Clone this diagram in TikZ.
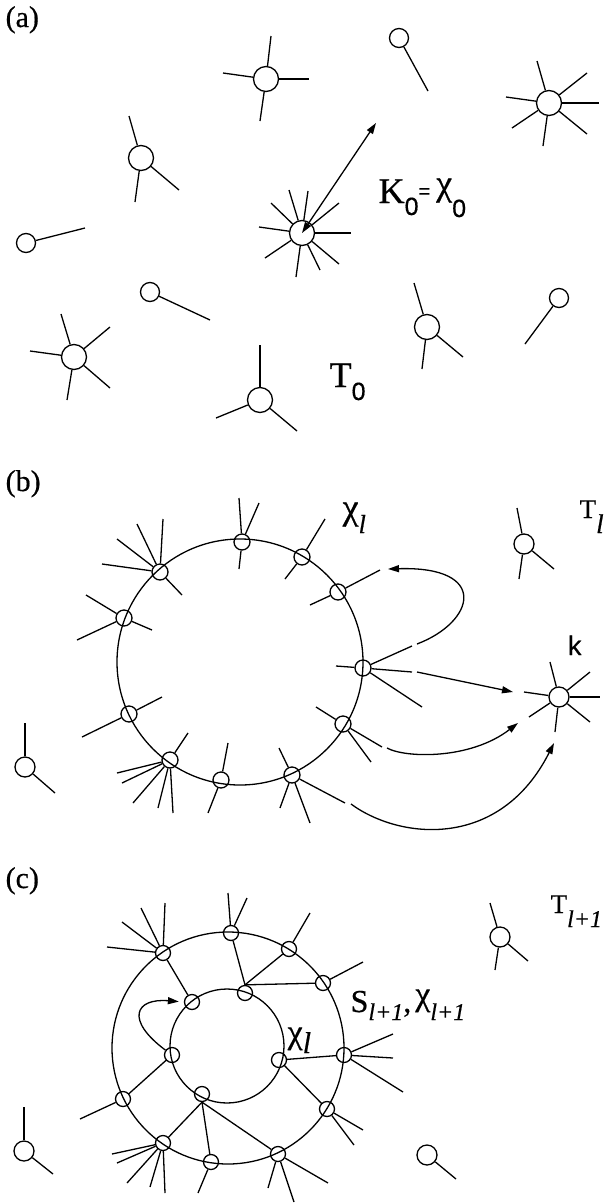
\documentclass[tikz,border=0pt]{standalone}
\usepackage{fontspec}
\setmainfont[FakeBold=0.5]{Liberation Serif}
\setmonofont[FakeBold=0.5]{Liberation Mono}
\newfontfamily\subsans[FakeBold=0.5]{Liberation Sans}
\usetikzlibrary{arrows.meta}
\newcommand{\fsz}[1]{\fontsize{#1}{#1}\selectfont}
\newcommand{\spokes}[2]{\foreach \sx/\sy [count=\si] in {#2} {\draw (#1) -- (\sx,\sy) coordinate (#1-\si);}}
\tikzset{
  hub/.style={draw,circle,inner sep=0pt,minimum size=25pt},
  leaf/.style={draw,circle,inner sep=0pt,minimum size=19pt},
  lone/.style={draw,circle,inner sep=0pt,minimum size=20pt},
  site/.style={draw,circle,inner sep=0pt,minimum size=16pt},
  csite/.style={draw,circle,inner sep=0pt,minimum size=15pt},
  ring/.style={draw,circle,inner sep=0pt,minimum size=#1},
  tag/.style={inner sep=0pt,anchor=base west},
}
\begin{document}
\begin{tikzpicture}[x=1pt,y=-1pt,line width=1.3pt,>={Triangle[length=11pt,width=7pt]}]
\useasboundingbox (0,0) rectangle (605,1203);

% (a)
\node[tag] (labA) at (5,27) {\fsz{30}(a)};
\node[hub] (a1) at (266,79) {};
\node[leaf] (a2) at (399,38) {};
\node[hub] (a3) at (549,103) {};
\node[hub] (a4) at (141,158) {};
\node[hub] (root) at (302,233) {};
\node[leaf] (a5) at (26,243) {};
\node[leaf] (a6) at (150,292) {};
\node[hub] (a7) at (74,357) {};
\node[hub] (a8) at (427,327) {};
\node[leaf] (a9) at (559,298) {};
\node[hub] (a10) at (260,400) {};
\spokes{a1}{271/36,223/73,309/79,260/121}
\spokes{a2}{428/91}
\spokes{a3}{537/61,587/73,599/103,587/134,543/146,512/128,506/97}
\spokes{a4}{129/116,179/190,135/202}
\spokes{root}{259/227,271/203,289/190,308/191,339/203,351/233,339/264,320/270,296/277,265/258}
\spokes{a5}{85/228}
\spokes{a6}{210/320}
\spokes{a7}{61/314,110/327,110/388,67/400,30/351}
\spokes{a8}{414/283,463/357,422/369}
\spokes{a9}{525/344}
\spokes{a10}{260/345,216/418,297/431}
\coordinate (reach) at (376,123);
\draw[<->] (root.center) -- (reach);
\node[tag] (keq) at (378,203) {\fsz{36}K\raisebox{-12pt}{\subsans\fsz{25}0}\raisebox{5pt}{\subsans\fsz{20}=}\hspace{6pt}\raisebox{8pt}{χ}\raisebox{-14pt}{\subsans\fsz{25}0}};
\node[tag] (tzero) at (329,387) {\fsz{36}T\raisebox{-13pt}{\subsans\fsz{25}0}};

% (b)
\node[tag] (labB) at (5,491) {\fsz{30}(b)};
\node[ring=246pt] (ringB) at (240,662) {};
\node[site] (b1) at (160,572) {};
\node[site] (b2) at (242,542) {};
\node[site] (b3) at (302,557) {};
\node[site] (b4) at (338,592) {};
\node[site] (b5) at (363,668) {};
\node[site] (b6) at (343,724) {};
\node[site] (b7) at (292,775) {};
\node[site] (b8) at (221,780) {};
\node[site] (b9) at (170,760) {};
\node[site] (b10) at (129,714) {};
\node[site] (b11) at (124,618) {};
\node[lone] (kk) at (559,697) {};
\node[lone] (q1) at (25,767) {};
\node[lone] (q2) at (524,544) {};
\spokes{b1}{163/519,137/524,117/539,102/564,182/595}
\spokes{b2}{239/498,239/569,259/503}
\spokes{b3}{325/519,285/579}
\spokes{b4}{380/570,310/605}
\spokes{b5}{336/666,412/646,412/672,422/707}
\spokes{b6}{316/707,382/747,371/762}
\spokes{b7}{279/748,280/808,310/823,345/803}
\spokes{b8}{228/743,208/813}
\spokes{b9}{188/733,117/773,122/783,133/803,158/808,173/813}
\spokes{b10}{162/697,82/737}
\spokes{b11}{86/595,152/630,77/640}
\spokes{kk}{550/662,590/672,600/697,590/722,555/732,529/717,524/692}
\spokes{q1}{25/723,55/793}
\spokes{q2}{517/508,554/569,519/579}
\coordinate (loopS) at (417,644);
\coordinate (loopE) at (388,569);
\coordinate (lineS) at (417,672);
\coordinate (lineE) at (513,692);
\coordinate (arcS) at (387,748);
\coordinate (arcE) at (518,723);
\coordinate (swingS) at (351,804);
\coordinate (swingE) at (554,743);
\draw[->] (loopS) .. controls (475,622) and (490,566) .. (loopE);
\draw[->] (lineS) -- (lineE);
\draw[->] (arcS) .. controls (405,758) and (470,760) .. (arcE);
\draw[->] (swingS) .. controls (400,840) and (500,850) .. (swingE);
\node[tag] (chiB) at (342,519) {\fsz{36}χ\raisebox{-14pt}{\fsz{26}\itshape l}};
\node[tag] (tB) at (579,518) {\fsz{27}T\raisebox{-15pt}{\itshape l}};
\node[tag] (kB) at (566,655) {\fsz{27}\ttfamily k};

% (c)
\node[tag] (labC) at (5,888) {\fsz{30}(c)};
\node[ring=232pt] (ringO) at (228,1048) {};
\node[ring=114pt] (ringI) at (227,1046) {};
\node[csite] (c1) at (163,953) {};
\node[csite] (c2) at (231,933) {};
\node[csite] (c3) at (289,949) {};
\node[csite] (c4) at (323,983) {};
\node[csite] (c5) at (344,1055) {};
\node[csite] (c6) at (327,1109) {};
\node[csite] (c7) at (278,1154) {};
\node[csite] (c8) at (211,1162) {};
\node[csite] (c9) at (163,1143) {};
\node[csite] (c10) at (123,1099) {};
\node[csite] (i1) at (192,1002) {};
\node[csite] (i2) at (245,993) {};
\node[csite] (i3) at (279,1060) {};
\node[csite] (i4) at (202,1094) {};
\node[csite] (i5) at (172,1055) {};
\node[lone] (p1) at (24,1151) {};
\node[lone] (p2) at (427,1155) {};
\node[lone] (p3) at (500,937) {};
\spokes{c1}{165/903,141/908,122/922,107/947}
\spokes{c2}{228/893,247/898}
\spokes{c3}{310/913}
\spokes{c4}{363/962}
\spokes{c5}{393/1034,393/1058,403/1092}
\spokes{c6}{363/1130,354/1145}
\spokes{c7}{328/1183,294/1202,268/1188}
\spokes{c8}{198/1193}
\spokes{c9}{112/1154,117/1163,127/1183,150/1187,165/1193}
\spokes{c10}{80/1119}
\spokes{p1}{24/1107,53/1174}
\spokes{p2}{456/1179}
\spokes{p3}{490/903,528/961,495/970}
\draw (c1) -- (i1);
\foreach \o in {c2,c3,c4} {\draw (\o) -- (i2.north);}
\draw (c5) -- (i3) -- (c6);
\foreach \o in {c7,c8,c9} {\draw (\o) -- (i4.south);}
\draw (c10) -- (i5);
\draw[->,shorten >=5pt] (i5) .. controls (125,1020) and (135,998) .. (i1.west);
\node[tag] (sC) at (350,1012) {\fsz{32}S\raisebox{-8pt}{\fsz{24}\itshape l+1},\hspace{4pt}\raisebox{7pt}{\fsz{34}χ}\raisebox{-8pt}{\fsz{24}\itshape l+1}};
\node[tag] (chiC) at (287,1053) {\raisebox{10pt}{\fsz{34}χ}\fsz{30}\itshape l};
\node[tag] (tC) at (550,913) {\fsz{27}T\raisebox{-14pt}{\fsz{24}\itshape l+1}};
\end{tikzpicture}
\end{document}
